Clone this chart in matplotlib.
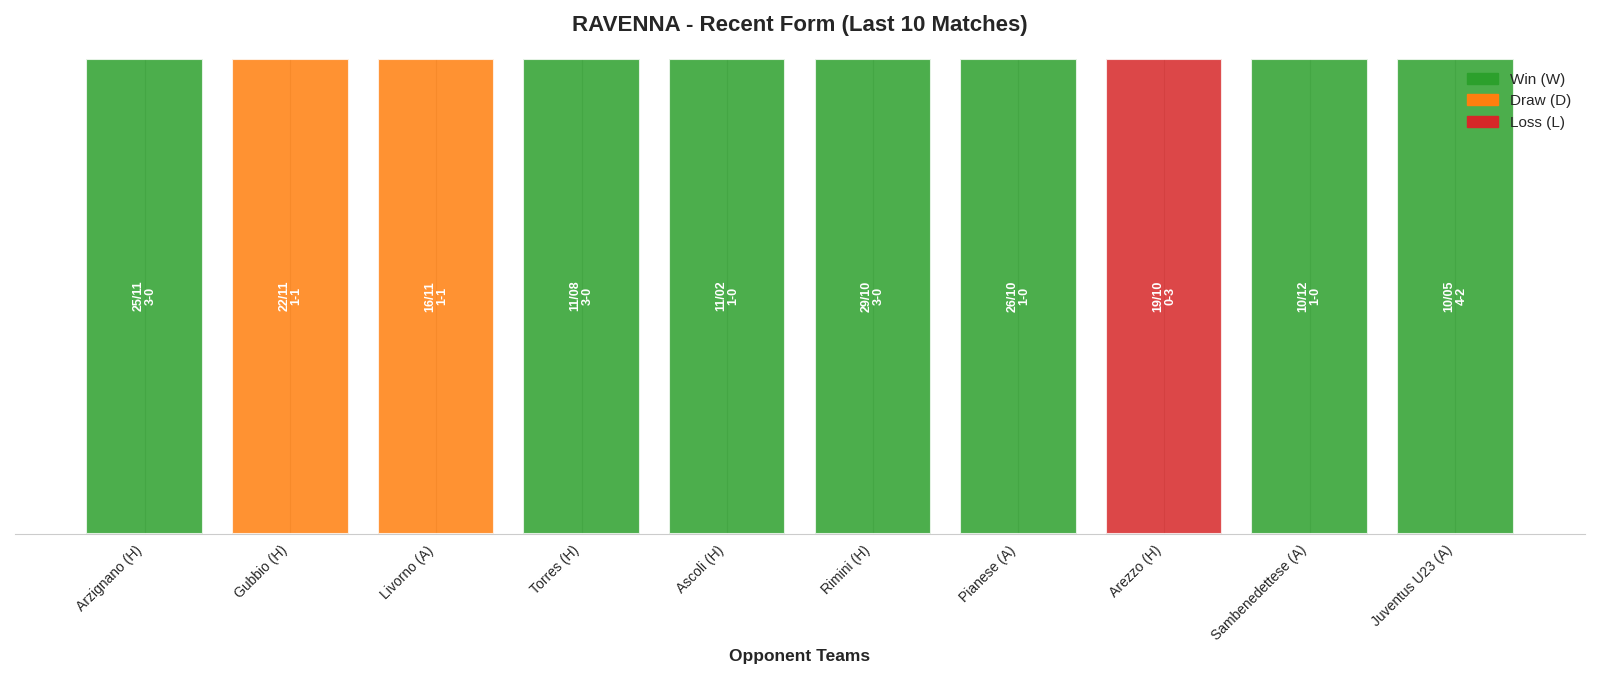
import matplotlib
matplotlib.use("Agg")
import matplotlib.pyplot as plt
import seaborn as sns
from matplotlib.patches import Patch

opponents = ["Arzignano (H)", "Gubbio (H)", "Livorno (A)", "Torres (H)", "Ascoli (H)",
             "Rimini (H)", "Pianese (A)", "Arezzo (H)", "Sambenedettese (A)", "Juventus U23 (A)"]
results = ["W", "D", "D", "W", "W", "W", "W", "L", "W", "W"]
dates = ["25/11", "22/11", "16/11", "11/08", "11/02", "29/10", "26/10", "19/10", "10/12", "10/05"]
scores = ["3-0", "1-1", "1-1", "3-0", "1-0", "3-0", "1-0", "0-3", "1-0", "4-2"]

colors = {"W": "#2ca02c", "D": "#ff7f0e", "L": "#d62728"}

sns.set_style("whitegrid")
plt.rcParams['font.family'] = ['Liberation Sans', 'DejaVu Sans']

fig, ax = plt.subplots(figsize=(16, 6.79), dpi=100)
x = list(range(len(opponents)))
ax.bar(x, [1] * len(x), color=[colors[r] for r in results], alpha=0.85,
       edgecolor="white", linewidth=1.5, width=0.8)
for i in x:
    ax.text(i, 0.5, f"{dates[i]}\n{scores[i]}", rotation=90, ha="center", va="center",
            color="white", fontweight="bold", fontsize=9, linespacing=1.0)

ax.set_xticks(x)
ax.set_xticklabels(opponents, rotation=45, ha="right", fontsize=10)
ax.set_yticks([])
ax.set_ylim(0, 1)
ax.grid(axis="y", visible=False)
ax.set_xlabel("Opponent Teams", fontsize=12.5, fontweight="bold")
ax.set_title("RAVENNA - Recent Form (Last 10 Matches)", fontsize=16, fontweight="bold", pad=20)
for s in ["left", "right", "top"]:
    ax.spines[s].set_visible(False)

handles = [Patch(color=colors["W"], label="Win (W)"),
           Patch(color=colors["D"], label="Draw (D)"),
           Patch(color=colors["L"], label="Loss (L)")]
ax.legend(handles=handles, loc="upper right", frameon=False, fontsize=11)

plt.tight_layout()
fig.savefig("out.png", dpi=100)
